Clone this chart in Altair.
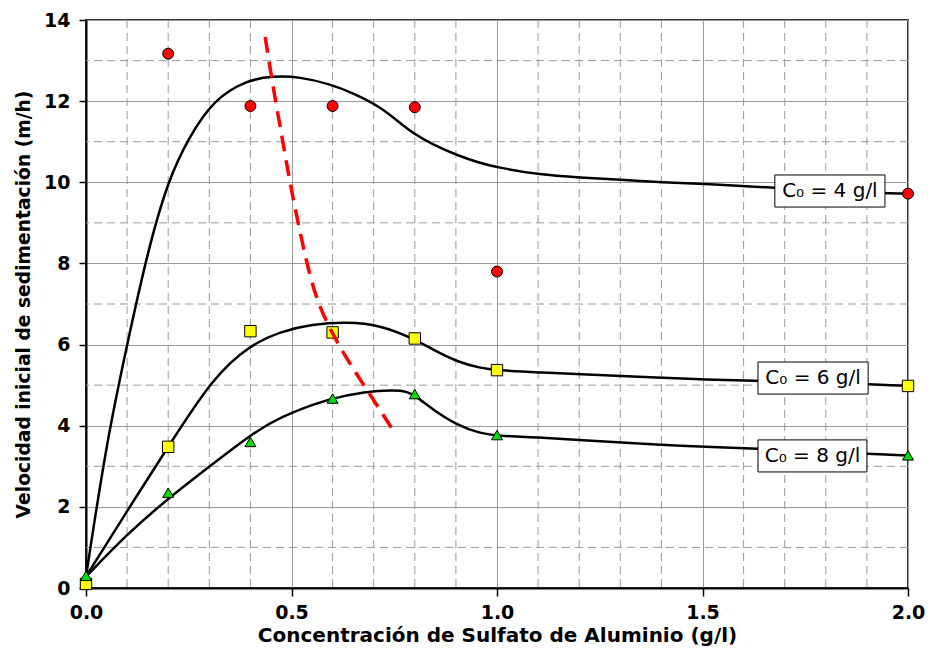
import altair as alt
import pandas as pd

# ---- observed points ----
x_c4 = [0.2, 0.4, 0.6, 0.8, 1.0, 2.0]
y_c4 = [13.17, 11.88, 11.88, 11.85, 7.8, 9.72]
x_c6 = [0.0, 0.2, 0.4, 0.6, 0.8, 1.0, 2.0]
y_c6 = [0.1, 3.48, 6.33, 6.3, 6.15, 5.37, 4.98]
x_c8 = [0.0, 0.2, 0.4, 0.6, 0.8, 1.0, 2.0]
y_c8 = [0.3, 2.35, 3.6, 4.67, 4.78, 3.77, 3.27]

# ---- fitted curves ----
cx_c4 = [0.0, 0.05, 0.1, 0.15, 0.2, 0.25, 0.31, 0.391, 0.456, 0.52, 0.594, 0.65, 0.715, 0.764,
         0.796, 0.845, 0.902, 0.959, 1.0, 1.105, 1.202, 1.3, 1.405, 1.502, 1.6, 1.676, 1.944, 2.0]
cy_c4 = [0.28, 3.6, 6.0, 8.3, 10.06, 11.1, 12.03, 12.52, 12.62, 12.6, 12.42, 12.2, 11.87, 11.46,
         11.21, 10.92, 10.67, 10.47, 10.37, 10.18, 10.12, 10.06, 10.0, 9.96, 9.91, 9.86, 9.73, 9.72]
cx_c6 = [0.0, 0.1, 0.2, 0.31, 0.4, 0.472, 0.55, 0.635, 0.715, 0.796, 0.845, 0.902, 0.959, 1.0,
         1.105, 1.202, 1.405, 1.502, 1.632, 1.903, 2.0]
cy_c6 = [0.28, 1.9, 3.48, 5.21, 5.99, 6.32, 6.5, 6.56, 6.48, 6.15, 5.87, 5.58, 5.42, 5.37,
         5.31, 5.27, 5.18, 5.14, 5.11, 5.03, 4.98]
cx_c8 = [0.0, 0.1, 0.2, 0.31, 0.4, 0.472, 0.594, 0.68, 0.747, 0.78, 0.804, 0.845, 0.902, 0.959,
         1.0, 1.105, 1.202, 1.405, 1.502, 1.632, 1.9, 2.0]
cy_c8 = [0.28, 1.33, 2.21, 3.07, 3.77, 4.22, 4.68, 4.84, 4.88, 4.85, 4.72, 4.39, 4.02, 3.81,
         3.75, 3.71, 3.65, 3.52, 3.48, 3.44, 3.30, 3.27]

# ---- red dashed optimum line ----
opt_x = [0.436, 0.455, 0.477, 0.496, 0.538, 0.569, 0.625, 0.684, 0.747]
opt_y = [13.58, 12.35, 11.12, 9.98, 7.91, 6.85, 5.79, 4.88, 3.89]

# ---- label boxes ----
lab_text = ["C\u2080 = 4 g/l", "C\u2080 = 6 g/l", "C\u2080 = 8 g/l"]
lab_x1 = [1.676, 1.635, 1.635]
lab_x2 = [1.944, 1.903, 1.900]
lab_y1 = [9.39, 4.78, 2.86]
lab_y2 = [10.18, 5.57, 3.65]

# ---- grid ----
minor_x = [0.1, 0.2, 0.3, 0.4, 0.6, 0.7, 0.8, 0.9, 1.1, 1.2, 1.3, 1.4, 1.6, 1.7, 1.8, 1.9]
minor_y = [1, 3, 5, 7, 9, 11, 13]
x_ticks = [0.0, 0.5, 1.0, 1.5, 2.0]
y_ticks = [0, 2, 4, 6, 8, 10, 12, 14]

FONT = "DejaVu Sans"
xs = alt.Scale(domain=[0, 2], nice=False, zero=False)
ys = alt.Scale(domain=[0, 14], nice=False)

xaxis = alt.Axis(values=x_ticks, format=".1f", title="Concentración de Sulfato de Aluminio (g/l)",
                 grid=True, gridColor="#9a9a9a", gridWidth=1, tickSize=8, tickColor="black",
                 tickWidth=1.5, labelPadding=7, labelFlush=False, labelFont=FONT, labelFontSize=19,
                 labelFontWeight="bold", labelColor="black", titleFont=FONT, titleFontSize=20,
                 titleFontWeight="bold", titleColor="black", titlePadding=3,
                 domainColor="black", domainWidth=2)
yaxis = alt.Axis(values=y_ticks, format="d", title="Velocidad inicial de sedimentación (m/h)",
                 grid=True, gridColor="#9a9a9a", gridWidth=1, tickSize=7, tickColor="black",
                 tickWidth=1.5, labelPadding=9, labelFlush=False, labelFont=FONT, labelFontSize=19,
                 labelFontWeight="bold", labelColor="black", titleFont=FONT, titleFontSize=18.7,
                 titleFontWeight="bold", titleColor="black", titlePadding=10,
                 domainColor="black", domainWidth=2)

base_axes = alt.Chart(pd.DataFrame({"x": [0.0], "y": [0.0]})).mark_point(opacity=0).encode(
    x=alt.X("x:Q", scale=xs, axis=xaxis), y=alt.Y("y:Q", scale=ys, axis=yaxis))

grid_x = alt.Chart(pd.DataFrame({"x": minor_x})).mark_rule(
    color="#9a9a9a", strokeWidth=1, strokeDash=[8, 5]).encode(x=alt.X("x:Q", scale=xs))
grid_y = alt.Chart(pd.DataFrame({"y": minor_y})).mark_rule(
    color="#9a9a9a", strokeWidth=1, strokeDash=[8, 5]).encode(y=alt.Y("y:Q", scale=ys))


def curve(cx, cy):
    df = pd.DataFrame({"x": cx, "y": cy})
    return alt.Chart(df).mark_line(color="black", strokeWidth=2.5, interpolate="basis").encode(
        x=alt.X("x:Q", scale=xs), y=alt.Y("y:Q", scale=ys))


def pts(px, py, shape, fill, size):
    df = pd.DataFrame({"x": px, "y": py})
    return alt.Chart(df).mark_point(shape=shape, filled=True, fill=fill, stroke="black",
                                    strokeWidth=1, size=size, opacity=1).encode(
        x=alt.X("x:Q", scale=xs), y=alt.Y("y:Q", scale=ys))


opt = alt.Chart(pd.DataFrame({"x": opt_x, "y": opt_y})).mark_line(
    color="#ff0000", strokeWidth=3.5, strokeDash=[16, 9], interpolate="basis").encode(
    x=alt.X("x:Q", scale=xs), y=alt.Y("y:Q", scale=ys))

lab_df = pd.DataFrame({"t": lab_text, "x1": lab_x1, "x2": lab_x2, "y1": lab_y1, "y2": lab_y2})
lab_df["xm"] = (lab_df["x1"] + lab_df["x2"]) / 2
lab_df["ym"] = (lab_df["y1"] + lab_df["y2"]) / 2
boxes = alt.Chart(lab_df).mark_rect(fill="white", stroke="black", strokeWidth=1).encode(
    x=alt.X("x1:Q", scale=xs), x2="x2:Q", y=alt.Y("y1:Q", scale=ys), y2="y2:Q")
texts = alt.Chart(lab_df).mark_text(font=FONT, fontSize=20, color="black", align="center",
                                    baseline="middle").encode(
    x=alt.X("xm:Q", scale=xs), y=alt.Y("ym:Q", scale=ys), text="t:N")

chart = alt.layer(
    base_axes, grid_x, grid_y,
    curve(cx_c4, cy_c4), curve(cx_c6, cy_c6), curve(cx_c8, cy_c8),
    pts(x_c4, y_c4, "circle", "#ff0000", 120),
    pts(x_c6, y_c6, "square", "#ffff00", 130),
    pts(x_c8, y_c8, "triangle-up", "#00dd00", 120),
    opt, boxes, texts,
).properties(
    width=822, height=568,
    autosize=alt.AutoSizeParams(type="none"),
    padding={"left": 86, "top": 20, "right": 20, "bottom": 64},
    background="white",
).configure_view(stroke="#333333", strokeWidth=2)

chart.save("out.html", embed_options={"renderer": "svg", "actions": False})
